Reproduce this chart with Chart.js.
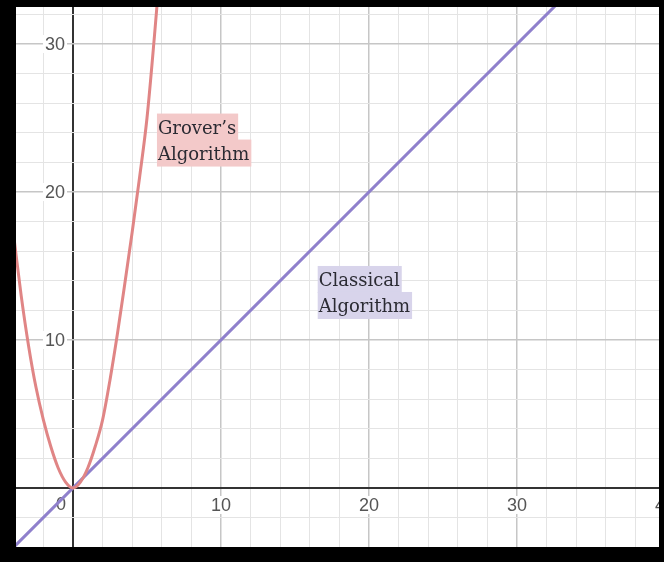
<!DOCTYPE html>
<html>
<head>
<meta charset="utf-8">
<script src="https://cdn.jsdelivr.net/npm/chart.js@4.4.0/dist/chart.umd.min.js"></script>
<style>
  html, body { margin: 0; padding: 0; background: #000; }
  canvas { display: block; }
</style>
</head>
<body>
<canvas id="chart" width="664" height="562"></canvas>
<script>
// values
const groverX = [-3.95, -3.5, -3.0, -2.5, -2.0, -1.5, -1.0, -0.5, 0, 0.5, 1.0, 1.5, 2.0, 2.5, 3.0, 3.5, 4.0, 4.5, 5.0, 5.5, 6.0];
const groverY = [16.6, 13.0, 9.6, 6.8, 4.6, 2.8, 1.35, 0.4, 0, 0.4, 1.35, 2.8, 4.6, 7.3, 10.4, 13.8, 17.3, 21.0, 25.0, 30.5, 36.5];
const classicalX = [-4.5, 36];
const classicalY = [-4.5, 36];
const xLabels = [10, 20, 30, 40];
const yLabels = [10, 20, 30];
const notes = [
    { lines: ["Grover\u2019s", "Algorithm"], x: 5.74, y: 25.3, bg: '#f3c9c9' },
    { lines: ["Classical", "Algorithm"], x: 16.6, y: 15.0, bg: '#d8d4eb' }
];

function toPoints(xs, ys) {
    return xs.map((x, i) => ({ x: x, y: ys[i] }));
}

const paperPlugin = {
    id: 'paper',
    beforeDraw(chart) {
        const { ctx, chartArea: a } = chart;
        ctx.save();
        ctx.fillStyle = '#fff';
        ctx.fillRect(a.left, a.top, a.right - a.left, a.bottom - a.top);
        ctx.restore();
    },
    beforeDatasetsDraw(chart) {
        const { ctx, chartArea: a, scales } = chart;
        const x0 = scales.x.getPixelForValue(0);
        const y0 = scales.y.getPixelForValue(0);
        ctx.save();
        ctx.beginPath();
        ctx.rect(a.left, a.top, a.right - a.left, a.bottom - a.top);
        ctx.clip();
        ctx.font = '18px "Liberation Sans", Arial, sans-serif';
        ctx.textBaseline = 'middle';
        const label = (txt, cx, cy) => {
            const w = ctx.measureText(txt).width;
            ctx.fillStyle = '#fff';
            ctx.fillRect(cx - w / 2 - 2, cy - 9, w + 4, 18);
            ctx.fillStyle = '#555';
            ctx.textAlign = 'center';
            ctx.fillText(txt, cx, cy + 1);
        };
        xLabels.forEach(v => label(String(v), scales.x.getPixelForValue(v), y0 + 17));
        yLabels.forEach(v => {
            const w = ctx.measureText(String(v)).width;
            label(String(v), x0 - 8 - w / 2, scales.y.getPixelForValue(v));
        });
        label('0', x0 - 12, y0 + 16);
        ctx.restore();
    },
    afterDatasetsDraw(chart) {
        const { ctx, scales } = chart;
        ctx.save();
        ctx.font = '18px "DejaVu Serif", serif';
        ctx.textBaseline = 'alphabetic';
        ctx.textAlign = 'left';
        notes.forEach(n => {
            const px = scales.x.getPixelForValue(n.x);
            const py = scales.y.getPixelForValue(n.y);
            n.lines.forEach((t, i) => {
                const w = ctx.measureText(t).width;
                const top = py + i * 26;
                ctx.fillStyle = n.bg;
                ctx.fillRect(px - 1, top, w + 3, 27);
                ctx.fillStyle = '#2b2b33';
                ctx.fillText(t, px, top + 20);
            });
        });
        ctx.restore();
    }
};

function gridColor(c) {
    const v = c.tick.value;
    if (v === 0) return '#333';
    return v % 10 === 0 ? '#c6c6c6' : '#e4e4e4';
}
function gridWidth(c) {
    const v = c.tick.value;
    if (v === 0) return 2;
    return v % 10 === 0 ? 1.5 : 1;
}

new Chart(document.getElementById('chart'), {
    type: 'scatter',
    data: {
        datasets: [{
            label: 'Grover',
            data: toPoints(groverX, groverY),
            showLine: true,
            borderColor: '#e08585',
            borderWidth: 3,
            pointRadius: 0,
            cubicInterpolationMode: 'monotone'
        }, {
            label: 'Classical',
            data: toPoints(classicalX, classicalY),
            showLine: true,
            borderColor: '#8f80cc',
            borderWidth: 3,
            pointRadius: 0
        }]
    },
    options: {
        responsive: false,
        animation: false,
        layout: { padding: { left: 16, right: 5, top: 7, bottom: 15 } },
        plugins: { legend: { display: false }, tooltip: { enabled: false } },
        scales: {
            x: {
                type: 'linear',
                min: -3.85,
                max: 39.59,
                ticks: { stepSize: 2, includeBounds: false, display: false },
                grid: { color: gridColor, lineWidth: gridWidth, drawTicks: false },
                border: { display: false }
            },
            y: {
                type: 'linear',
                min: -3.99,
                max: 32.5,
                ticks: { stepSize: 2, includeBounds: false, display: false },
                grid: { color: gridColor, lineWidth: gridWidth, drawTicks: false },
                border: { display: false }
            }
        }
    },
    plugins: [paperPlugin]
});
</script>
</body>
</html>
